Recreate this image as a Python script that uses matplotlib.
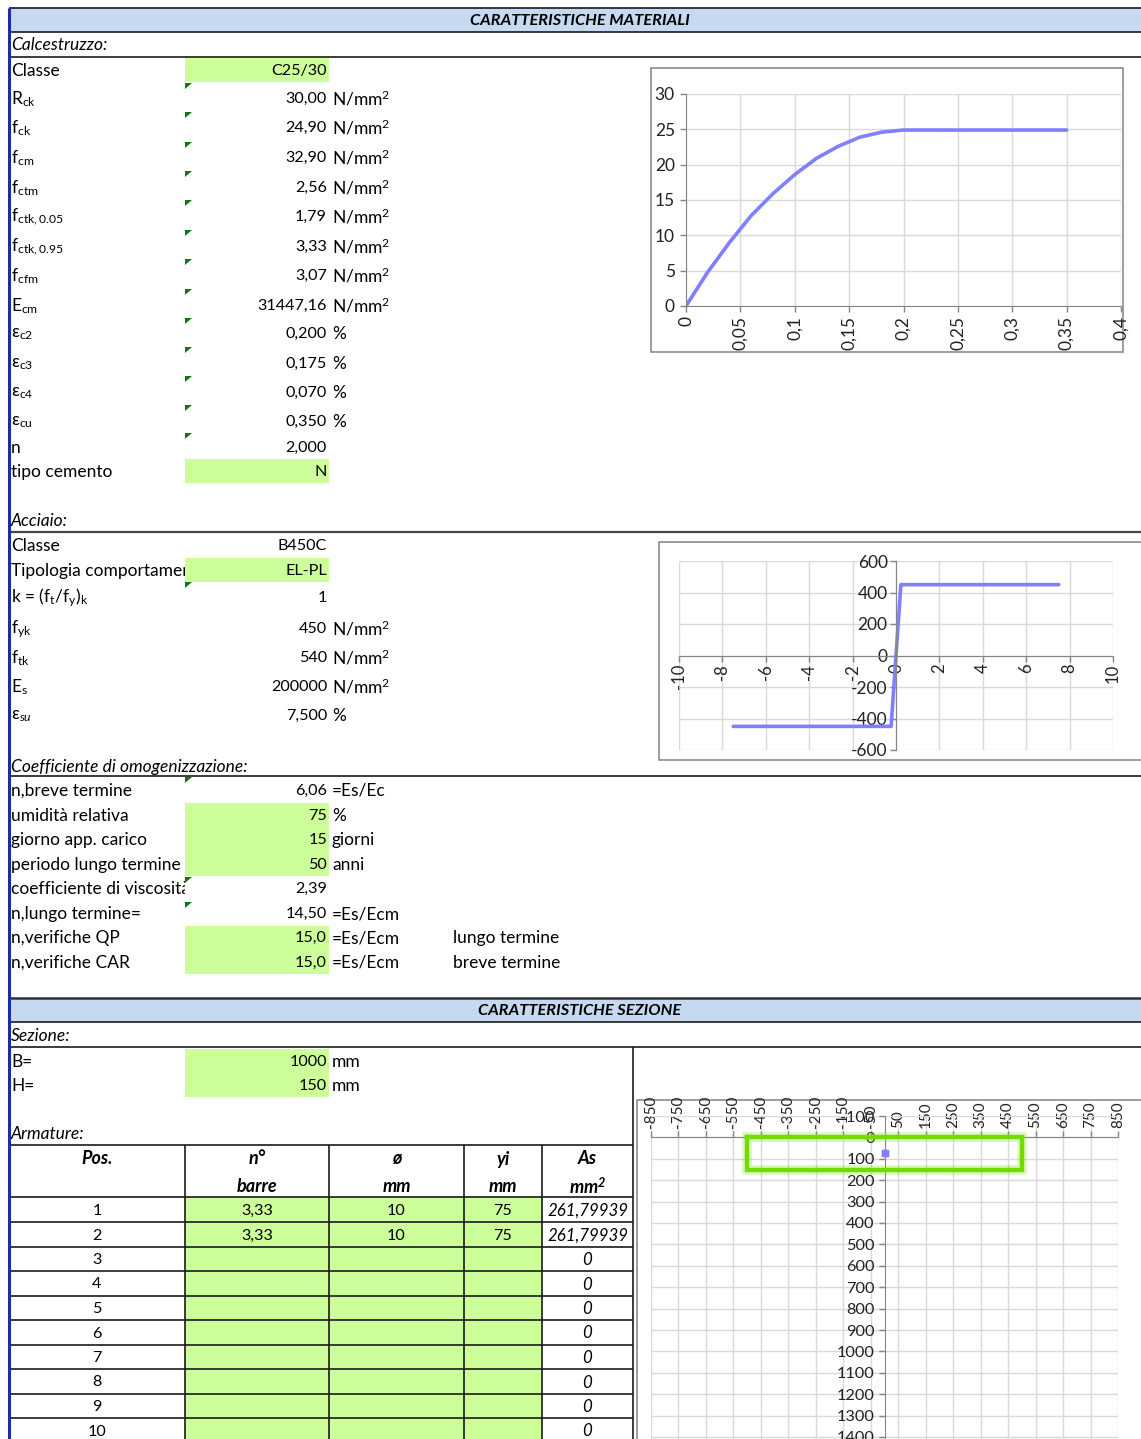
import matplotlib
matplotlib.use("Agg")
import matplotlib.pyplot as plt
from matplotlib.patches import Rectangle, Polygon
from matplotlib.ticker import FuncFormatter
from matplotlib.transforms import Bbox, TransformedBbox

plt.rcParams["font.family"] = ["Lato", "DejaVu Sans"]
plt.rcParams["mathtext.fontset"] = "custom"
plt.rcParams["mathtext.rm"] = "Lato"
plt.rcParams["mathtext.it"] = "Lato:italic"
plt.rcParams["mathtext.bf"] = "Lato:bold:italic"

fs = 12.5     # labels
fv = 11.6     # numeric values
green = "#CCFF99"
band = "#C5D9F1"
lc = "#1a1a1a"
curve = "#7F7FFF"
grid = "#D9D9D9"
axc = "#868686"

# ---- data ----
conc_labels = ["Classe", r"$\mathregular{R_{ck}}$", r"$\mathregular{f_{ck}}$", r"$\mathregular{f_{cm}}$",
               r"$\mathregular{f_{ctm}}$", r"$\mathregular{f_{ctk,0.05}}$", r"$\mathregular{f_{ctk,0.95}}$",
               r"$\mathregular{f_{cfm}}$", r"$\mathregular{E_{cm}}$", r"$\mathregular{ε_{c2}}$",
               r"$\mathregular{ε_{c3}}$", r"$\mathregular{ε_{c4}}$", r"$\mathregular{ε_{cu}}$", "n", "tipo cemento"]
conc_values = ["C25/30", "30,00", "24,90", "32,90", "2,56", "1,79", "3,33", "3,07", "31447,16",
               "0,200", "0,175", "0,070", "0,350", "2,000", "N"]
NMM = r"$\mathregular{N/mm^2}$"
conc_units = ["", NMM, NMM, NMM, NMM, NMM, NMM, NMM, NMM, "%", "%", "%", "%", "", ""]

steel_labels = ["Classe", "Tipologia comportamento", r"k = (f$\mathregular{_t}$/f$\mathregular{_y}$)$\mathregular{_k}$",
                r"$\mathregular{f_{yk}}$", r"$\mathregular{f_{tk}}$", r"$\mathregular{E_s}$", r"$\mathregular{ε}_{su}$"]
steel_values = ["B450C", "EL-PL", "1", "450", "540", "200000", "7,500"]
steel_units = ["", "", "", NMM, NMM, NMM, "%"]

coef_labels = ["n,breve termine", "umidità relativa", "giorno app. carico", "periodo lungo termine",
               "coefficiente di viscosità", "n,lungo termine=", "n,verifiche QP", "n,verifiche CAR"]
coef_values = ["6,06", "75", "15", "50", "2,39", "14,50", "15,0", "15,0"]
coef_units = ["=Es/Ec", "%", "giorni", "anni", "", "=Es/Ecm", "=Es/Ecm", "=Es/Ecm"]
coef_notes = ["", "", "", "", "", "", "lungo termine", "breve termine"]

sez_labels = ["B=", "H="]
sez_values = ["1000", "150"]
sez_units = ["mm", "mm"]

tab_head1 = ["Pos.", "n°", "ø", "yi", "As"]
tab_head2 = ["", "barre", "mm", "mm", r"mm$^\mathbf{2}$"]
tab_pos = ["1", "2", "3", "4", "5", "6", "7", "8", "9", "10"]
tab_nbar = ["3,33", "3,33", "", "", "", "", "", "", "", ""]
tab_phi = ["10", "10", "", "", "", "", "", "", "", ""]
tab_yi = ["75", "75", "", "", "", "", "", "", "", ""]
tab_as = ["261,79939", "261,79939", "0", "0", "0", "0", "0", "0", "0", "0"]

# concrete stress-strain
conc_eps = [0, 0.02, 0.04, 0.06, 0.08, 0.10, 0.12, 0.14, 0.16, 0.18, 0.20, 0.35]
conc_sig = [0, 4.8, 9.0, 12.8, 15.9, 18.6, 20.9, 22.6, 23.9, 24.6, 24.9, 24.9]

# steel stress-strain
steel_eps = [-7.5, -0.225, 0.225, 7.5]
steel_sig = [-450, -450, 450, 450]

# section outline and bars
sec_x = [-500, 500, 500, -500, -500]
sec_y = [0, 0, 150, 150, 0]
bar_x = [0, 0]
bar_y = [75, 75]

W, H = 1141, 1439
fig = plt.figure(figsize=(W / 100, H / 100), dpi=100)
ax = fig.add_axes([0, 0, 1, 1])
ax.set_xlim(0, W)
ax.set_ylim(H, 0)
ax.axis("off")


def hline(y, x0=9, x1=W, lw=1.2, c=lc):
    ax.plot([x0, x1], [y, y], color=c, lw=lw, solid_capstyle="butt")


def vline(x, y0, y1, lw=1.2, c=lc):
    ax.plot([x, x], [y0, y1], color=c, lw=lw, solid_capstyle="butt")


def fill(x0, y0, x1, y1, c=green):
    ax.add_patch(Rectangle((x0, y0), x1 - x0, y1 - y0, facecolor=c, edgecolor="none", zorder=0))


def flag(y):
    ax.add_patch(Polygon([(185, y), (192, y), (185, y + 6)], closed=True, facecolor="#0B7A0B",
                         edgecolor="none", zorder=3))


def row(y, label, value, unit, clipx=None):
    t = ax.text(11, y, label, fontsize=fs, va="center", ha="left")
    if clipx:
        t.set_clip_box(TransformedBbox(Bbox([[0, 0], [clipx, H]]), ax.transData))
        t.set_clip_on(True)
    ax.text(327, y, value, fontsize=fv, va="center", ha="right")
    if unit:
        ax.text(332, y, unit, fontsize=fs, va="center", ha="left")


# ---- header bands ----
fill(9, 8, W, 32, band)
hline(8)
hline(32)
ax.text(580, 21, "CARATTERISTICHE MATERIALI", fontsize=11.8, ha="center", va="center",
        weight="bold", style="italic")
ax.text(11, 45, "Calcestruzzo:", fontsize=fs, va="center", style="italic")
hline(57)

# concrete block
conc_y = [71, 99, 128, 158, 188, 217, 247, 276, 306, 334, 364, 393, 422, 448, 472]
fill(185, 58, 329, 82)
fill(185, 459, 329, 483)
for y, l, v, u in zip(conc_y, conc_labels, conc_values, conc_units):
    row(y, l, v, u)
for y in [83, 112, 142, 171, 200, 230, 259, 289, 318, 347, 376, 405, 433]:
    flag(y)

# steel block
ax.text(11, 521, "Acciaio:", fontsize=fs, va="center", style="italic")
hline(532, lw=1.6, c="#444444")
fill(185, 558, 329, 582)
steel_y = [546, 571, 598, 629, 658, 687, 716]
for i, (y, l, v, u) in enumerate(zip(steel_y, steel_labels, steel_values, steel_units)):
    row(y, l, v, u, clipx=185 if i == 1 else None)
flag(582)

# coefficient block
ax.text(11, 767, "Coefficiente di omogenizzazione:", fontsize=fs, va="center", style="italic")
hline(776)
fill(185, 803, 329, 876)
fill(185, 926, 329, 974)
coef_y = [791, 816, 840, 865, 889, 914, 938, 963]
for i, (y, l, v, u, n) in enumerate(zip(coef_y, coef_labels, coef_values, coef_units, coef_notes)):
    row(y, l, v, u, clipx=185 if i == 4 else None)
    if n:
        ax.text(453, y, n, fontsize=fs, va="center", ha="left")
for y in [777, 877, 902]:
    flag(y)

# section header
hline(998, lw=1.8, c="#333333")
fill(9, 998, W, 1022, band)
hline(1022)
ax.text(580, 1011, "CARATTERISTICHE SEZIONE", fontsize=11.8, ha="center", va="center",
        weight="bold", style="italic")
ax.text(11, 1036, "Sezione:", fontsize=fs, va="center", style="italic")
hline(1047)
vline(633, 1047, H)
fill(185, 1049, 329, 1097)
for y, l, v, u in zip([1062, 1086], sez_labels, sez_values, sez_units):
    row(y, l, v, u)
ax.text(11, 1134, "Armature:", fontsize=fs, va="center", style="italic")

# table
cols = [9, 185, 329, 464, 542, 633]
centers = [(a + b) / 2 for a, b in zip(cols[:-1], cols[1:])]
fill(185, 1197, 542, H)
hline(1145, 9, 633)
hline(1197, 9, 633)
row_y = [1210 + 24.5 * i for i in range(len(tab_pos))]
for y in row_y[:-1]:
    hline(y + 12.3, 9, 633)
for x in cols[1:-1]:
    vline(x, 1145, H)
for cx, h1, h2 in zip(centers, tab_head1, tab_head2):
    ax.text(cx, 1159, h1, fontsize=13, ha="center", va="center", weight="bold", style="italic")
    if h2:
        ax.text(cx, 1187, h2, fontsize=13, ha="center", va="center", weight="bold", style="italic")
for y, p, nb, ph, yi, a_s in zip(row_y, tab_pos, tab_nbar, tab_phi, tab_yi, tab_as):
    ax.text(centers[0], y + 1, p, fontsize=fv, ha="center", va="center")
    ax.text(centers[1], y + 1, nb, fontsize=fv, ha="center", va="center")
    ax.text(centers[2], y + 1, ph, fontsize=fv, ha="center", va="center")
    ax.text(centers[3], y + 1, yi, fontsize=fv, ha="center", va="center")
    ax.text(centers[4], y + 1, a_s, fontsize=12.2, ha="center", va="center", style="italic")

# left border
vline(9, 8, H, lw=2.2, c="#1B2E9A")

# ---- chart frames ----
ax.add_patch(Rectangle((651, 68), 472, 284, facecolor="white", edgecolor="#8C8C8C", lw=1.2, zorder=1))
ax.add_patch(Rectangle((659, 542), 500, 218, facecolor="white", edgecolor="#8C8C8C", lw=1.2, zorder=1))
ax.add_patch(Rectangle((637, 1100), 520, 400, facecolor="white", edgecolor="#8C8C8C", lw=1.2, zorder=1))


def pax(x0, y0, x1, y1):
    return fig.add_axes([x0 / W, 1 - y1 / H, (x1 - x0) / W, (y1 - y0) / H])


comma = FuncFormatter(lambda v, p: ("%g" % round(v, 4)).replace(".", ","))


def style(a):
    a.set_facecolor("none")
    a.grid(True, color=grid, lw=1)
    a.set_axisbelow(True)
    for s in a.spines.values():
        s.set_color(axc)
    a.tick_params(colors=axc, labelcolor="#222222", length=4, width=1)


# concrete chart
a1 = pax(686, 94, 1121, 306)
style(a1)
a1.plot(conc_eps, conc_sig, color=curve, lw=2.6, solid_capstyle="round")
a1.set_xlim(0, 0.4)
a1.set_ylim(0, 30)
a1.set_xticks([0, 0.05, 0.1, 0.15, 0.2, 0.25, 0.3, 0.35, 0.4])
a1.set_yticks(range(0, 31, 5))
a1.xaxis.set_major_formatter(comma)
a1.spines["top"].set_visible(False)
a1.spines["right"].set_visible(False)
a1.tick_params(axis="x", labelrotation=90, labelsize=12.5, pad=3)
a1.tick_params(axis="y", labelsize=12.5, pad=4)

# steel chart
a2 = pax(679, 561, 1113, 750)
style(a2)
a2.plot(steel_eps, steel_sig, color=curve, lw=2.6, solid_capstyle="round")
a2.set_xlim(-10, 10)
a2.set_ylim(-600, 600)
a2.set_xticks(range(-10, 11, 2))
a2.set_yticks(range(-600, 601, 200))
a2.xaxis.set_major_formatter(FuncFormatter(lambda v, p: "%d" % v))
a2.yaxis.set_major_formatter(FuncFormatter(lambda v, p: "%d" % v))
a2.spines["left"].set_position(("data", 0))
a2.spines["bottom"].set_position(("data", 0))
a2.spines["top"].set_visible(False)
a2.spines["right"].set_visible(False)
a2.tick_params(axis="x", labelrotation=90, labelsize=12, pad=2)
a2.tick_params(axis="y", labelsize=12.5, pad=2)

# section chart
py = 321 / 1500
a3 = pax(651, 1116, 1118, 1116 + 1700 * py)
style(a3)
a3.set_xlim(-850, 850)
a3.set_ylim(1600, -100)
a3.set_xticks(range(-850, 851, 100))
a3.set_yticks(range(-100, 1601, 100))
a3.xaxis.set_major_formatter(FuncFormatter(lambda v, p: "%d" % v))
a3.yaxis.set_major_formatter(FuncFormatter(lambda v, p: "%d" % v))
a3.spines["top"].set_position(("data", 0))
a3.spines["left"].set_position(("data", 0))
a3.spines["bottom"].set_visible(False)
a3.spines["right"].set_visible(False)
a3.xaxis.set_ticks_position("top")
a3.tick_params(axis="x", labelrotation=90, labelsize=11, pad=3, direction="out")
a3.tick_params(axis="y", labelsize=11.8, pad=3)
a3.plot(sec_x, sec_y, color="#7FE000", lw=7, alpha=0.25, solid_joinstyle="miter", zorder=3)
a3.plot(sec_x, sec_y, color="#6FDD00", lw=3.2, solid_joinstyle="miter", zorder=4)
a3.plot(bar_x, bar_y, "s", color=curve, ms=5, zorder=5)

fig.savefig("out.png", dpi=100)
